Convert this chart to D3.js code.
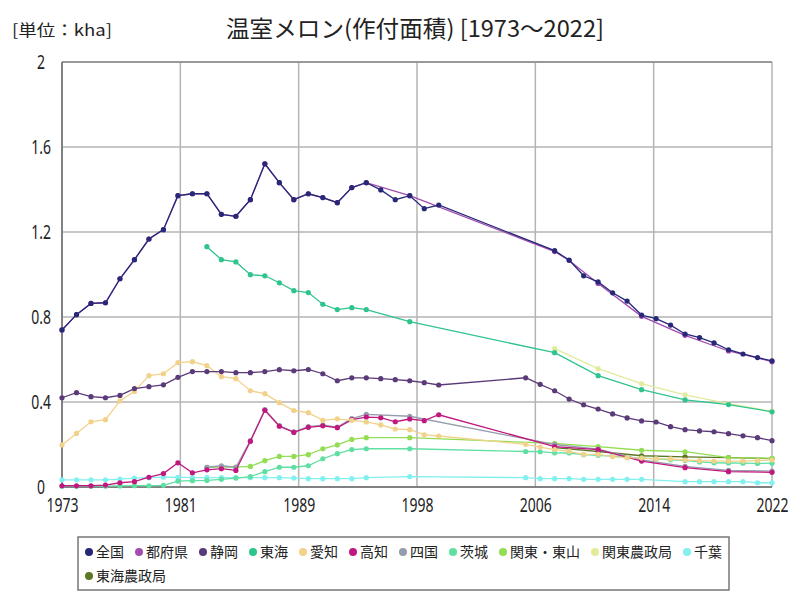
<!DOCTYPE html>
<html><head><meta charset="utf-8">
<script src="https://cdn.jsdelivr.net/npm/d3@7"></script>
<style>
body{margin:0;background:#fff;}
svg{display:block;font-family:"Noto Sans CJK JP","Noto Sans",sans-serif;}
</style></head>
<body>
<svg id="c" width="800" height="600"></svg>
<script>
const span = (a, b) => d3.range(a, b + 1);

const seriesNames = ["全国","都府県","静岡","東海","愛知","高知","四国","茨城","関東・東山","関東農政局","千葉","東海農政局"];
const seriesColors = ["#282878","#a24cb0","#5a3a78","#2ec48c","#f2d28a","#c0187e","#959cab","#5fe0a2","#92dd52","#e2eb9c","#82f0ee","#5e7626"];

const years全国 = [...span(1973,1999), ...span(2007,2022)];
const vals全国 = [0.739,0.811,0.864,0.867,0.98,1.07,1.167,1.211,1.371,1.38,1.38,1.283,1.274,1.352,1.521,1.432,1.352,1.38,1.362,1.338,1.409,1.432,1.398,1.352,1.371,1.31,1.327,
  1.112,1.068,0.994,0.965,0.914,0.875,0.809,0.792,0.762,0.72,0.703,0.678,0.646,0.626,0.609,0.594];

const years都府県 = [...span(1973,1994), 1997, 2007, 2008, 2010, 2013, 2016, 2019, 2022];
const vals都府県 = [0.739,0.811,0.864,0.867,0.98,1.07,1.167,1.211,1.371,1.38,1.38,1.283,1.274,1.352,1.521,1.432,1.352,1.38,1.362,1.338,1.409,1.432,
  1.371,1.108,1.066,0.958,0.803,0.714,0.64,0.59];

const years静岡 = [...span(1973,1999), ...span(2005,2022)];
const vals静岡 = [0.42,0.444,0.425,0.42,0.431,0.463,0.472,0.481,0.516,0.543,0.543,0.543,0.538,0.538,0.543,0.552,0.547,0.553,0.533,0.5,0.514,0.514,0.51,0.505,0.5,0.491,0.48,
  0.514,0.483,0.453,0.414,0.387,0.367,0.344,0.325,0.311,0.306,0.284,0.27,0.264,0.26,0.251,0.241,0.232,0.218];

const years東海 = [...span(1983,1994), 1997, 2007, 2010, 2013, 2016, 2019, 2022];
const vals東海 = [1.131,1.07,1.059,0.999,0.994,0.961,0.924,0.915,0.86,0.835,0.844,0.835,0.778,0.632,0.524,0.458,0.41,0.388,0.354];

const years愛知 = [...span(1973,1999), ...span(2005,2022)];
const vals愛知 = [0.198,0.252,0.307,0.317,0.405,0.45,0.524,0.533,0.585,0.59,0.571,0.519,0.51,0.453,0.439,0.397,0.36,0.35,0.314,0.321,0.314,0.306,0.292,0.273,0.27,0.246,0.24,
  0.201,0.188,0.176,0.168,0.154,0.154,0.143,0.138,0.136,0.132,0.132,0.127,0.124,0.122,0.122,0.122,0.124,0.127];

const years高知 = [...span(1973,1999), 2007, 2010, 2013, 2016, 2019, 2022];
const vals高知 = [0.006,0.006,0.006,0.009,0.02,0.025,0.046,0.063,0.114,0.067,0.081,0.086,0.078,0.215,0.361,0.286,0.257,0.281,0.288,0.279,0.317,0.329,0.326,0.307,0.32,0.312,0.34,
  0.19,0.176,0.122,0.091,0.072,0.069];

const years四国 = [...span(1983,1994), 1997, 2007, 2010, 2013, 2016, 2019, 2022];
const vals四国 = [0.093,0.1,0.093,0.218,0.364,0.289,0.26,0.284,0.291,0.282,0.322,0.342,0.333,0.2,0.178,0.128,0.097,0.078,0.075];

const years茨城 = [...span(1973,1994), 1997, ...span(2005,2022)];
const vals茨城 = [0.003,0.003,0.003,0.004,0.005,0.006,0.006,0.008,0.028,0.03,0.031,0.036,0.042,0.049,0.072,0.093,0.093,0.1,0.133,0.157,0.176,0.18,
  0.18,0.167,0.166,0.161,0.16,0.152,0.149,0.145,0.14,0.136,0.133,0.128,0.125,0.118,0.114,0.113,0.112,0.111,0.112];

const years関東東山 = [...span(1983,1994), 1997, 2007, 2010, 2013, 2016, 2019, 2022];
const vals関東東山 = [0.093,0.095,0.094,0.097,0.124,0.144,0.144,0.152,0.18,0.198,0.224,0.232,0.232,0.205,0.19,0.173,0.166,0.138,0.135];

const years関東農政局 = [2007, 2010, 2013, 2016, 2019, 2022];
const vals関東農政局 = [0.651,0.557,0.486,0.434,0.392,0.356];

const years千葉 = [...span(1973,1994), 1997, ...span(2005,2013), ...span(2016,2022)];
const vals千葉 = [0.034,0.034,0.034,0.034,0.037,0.042,0.044,0.046,0.046,0.044,0.044,0.044,0.044,0.044,0.044,0.044,0.042,0.039,0.039,0.039,0.039,0.044,
  0.049,0.044,0.039,0.039,0.039,0.036,0.036,0.036,0.036,0.036,0.025,0.025,0.025,0.025,0.025,0.02,0.02];

const years東海農政局 = [2007, 2010, 2013, 2016, 2019, 2022];
const vals東海農政局 = [0.185,0.167,0.147,0.142,0.138,0.134];

const xTickLabels = ["1973","1981","1989","1998","2006","2014","2022"];
const yTicks = [0, 0.4, 0.8, 1.2, 1.6, 2];

const seriesYears = [years全国,years都府県,years静岡,years東海,years愛知,years高知,years四国,years茨城,years関東東山,years関東農政局,years千葉,years東海農政局];
const seriesVals = [vals全国,vals都府県,vals静岡,vals東海,vals愛知,vals高知,vals四国,vals茨城,vals関東東山,vals関東農政局,vals千葉,vals東海農政局];

const series = seriesNames.map((n,i)=>({name:n,color:seriesColors[i],pts:seriesYears[i].map((y,j)=>({x:y,v:seriesVals[i][j]}))}));

const svg = d3.select("#c");
const L=62,R=772,T=62,B=487;
const x = d3.scaleLinear().domain([1973,2022]).range([L,R]);
const y = d3.scaleLinear().domain([0,2]).range([B,T]);
const SX = 0.7;

// grid
const xTickVals = xTickLabels.map((_,i)=>1973 + i*(2022-1973)/(xTickLabels.length-1));
const g = svg.append("g");
g.selectAll(".vg").data(xTickVals).join("line")
  .attr("x1",d=>x(d)).attr("x2",d=>x(d)).attr("y1",T).attr("y2",B)
  .attr("stroke","#b4b4b4").attr("stroke-width",1.5);
g.selectAll(".hg").data(yTicks).join("line")
  .attr("x1",L).attr("x2",R).attr("y1",d=>y(d)).attr("y2",d=>y(d))
  .attr("stroke","#b4b4b4").attr("stroke-width",1.5);
// frame
svg.append("line").attr("x1",L).attr("x2",R).attr("y1",T).attr("y2",T).attr("stroke","#8a8a8a").attr("stroke-width",1.5);
svg.append("line").attr("x1",L).attr("x2",L).attr("y1",T).attr("y2",B).attr("stroke","#6a6a6a").attr("stroke-width",1.5);
svg.append("line").attr("x1",L).attr("x2",R).attr("y1",B).attr("y2",B).attr("stroke","#6a6a6a").attr("stroke-width",1.5);

// axes labels
const xAxis = d3.axisBottom(x).tickValues(xTickVals).tickFormat((d,i)=>xTickLabels[i]).tickSize(0).tickPadding(11);
const xa = svg.append("g").attr("transform",`translate(0,${B})`).call(xAxis);
xa.select(".domain").remove();
xa.selectAll("text").attr("font-size",20).attr("fill","#222").attr("font-family","'Noto Sans',sans-serif")
  .attr("transform",`scale(${SX},1)`);
const yAxis = d3.axisLeft(y).tickValues(yTicks).tickFormat(d=>d===0?"0":String(+d.toFixed(1))).tickSize(0);
const ya = svg.append("g").attr("transform",`translate(${L},0)`).call(yAxis);
ya.select(".domain").remove();
ya.selectAll("text").attr("font-size",20).attr("fill","#222").attr("text-anchor","middle").attr("font-family","'Noto Sans',sans-serif")
  .attr("x",-21/SX).attr("transform",`scale(${SX},1)`);

// series (reverse order so first is on top)
const line = d3.line().x(d=>x(d.x)).y(d=>y(d.v));
const sg = svg.append("g");
[...series].reverse().forEach(s=>{
  const gg = sg.append("g");
  gg.append("path").datum(s.pts).attr("d",line).attr("fill","none").attr("stroke",s.color).attr("stroke-width",1.3);
  gg.selectAll("circle").data(s.pts).join("circle").attr("cx",d=>x(d.x)).attr("cy",d=>y(d.v)).attr("r",2.6).attr("fill",s.color);
});

// titles
svg.append("text").attr("x",415).attr("y",37).attr("text-anchor","middle").attr("font-size",23).attr("fill","#222")
  .attr("textLength",378).attr("lengthAdjust","spacingAndGlyphs")
  .text("温室メロン(作付面積) [1973～2022]");
svg.append("text").attr("x",12).attr("y",36).attr("font-size",16).attr("fill","#222")
  .attr("textLength",100).attr("lengthAdjust","spacingAndGlyphs").text("[単位：kha]");

// legend
const lg = svg.append("g");
const boxX=78, boxW=651, boxY=537, boxH=53;
lg.append("rect").attr("x",boxX).attr("y",boxY).attr("width",boxW).attr("height",boxH).attr("fill","#fff").attr("stroke","#777").attr("stroke-width",1.5);
let cx = boxX+11, cy = boxY+15;
series.forEach(s=>{
  const it = lg.append("g");
  const t = it.append("text").attr("x",cx+7).attr("y",cy+5).attr("font-size",14).attr("fill","#222").text(s.name);
  const w = t.node().getComputedTextLength();
  if (cx + 7 + w > boxX + boxW - 5) {
    cx = boxX+11; cy += 24;
    t.attr("x",cx+7).attr("y",cy+5);
  }
  it.append("circle").attr("cx",cx).attr("cy",cy).attr("r",4).attr("fill",s.color);
  cx += 7 + w + 15;
});
</script>
</body></html>
